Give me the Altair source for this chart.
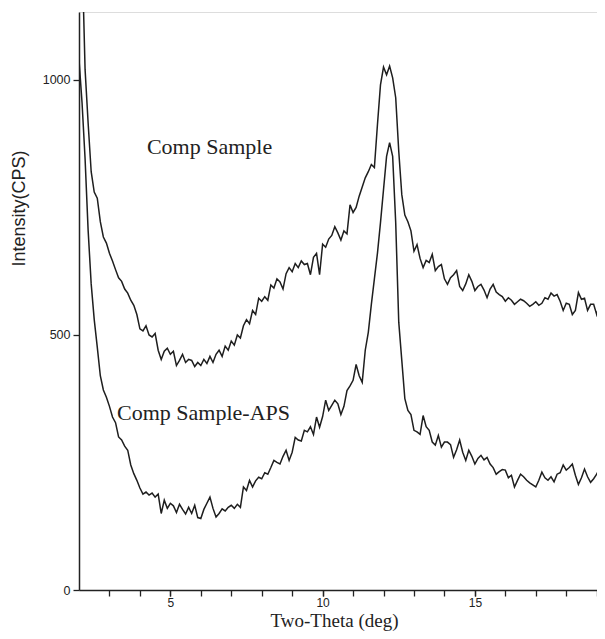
import altair as alt
import pandas as pd

# Two-theta grid: 2.0 .. 19.3 deg, step 0.1
x_start = 2.0
x_step = 0.1

comp_sample = [
    1400, 1250, 1020, 915, 820, 780, 768, 722, 692, 680,
    660, 645, 628, 612, 605, 590, 582, 568, 558, 540,
    512, 508, 518, 500, 496, 503, 470, 452, 468, 474,
    462, 468, 440, 450, 462, 446, 452, 450, 438, 446,
    440, 452, 444, 458, 446, 462, 470, 458, 478, 470,
    488, 480, 500, 494, 518, 530, 522, 548, 540, 572,
    566, 575, 568, 598, 592, 610, 604, 590, 620, 632,
    624, 640, 632, 645, 638, 640, 618, 652, 660, 618,
    678, 672, 688, 695, 712, 700, 686, 704, 698, 755,
    740, 750, 772, 790, 808, 820, 834, 828, 912, 990,
    1025, 1010, 1027, 1004, 965, 860, 775, 735, 722, 704,
    664, 677, 650, 632, 646, 642, 658, 626, 634, 638,
    610, 599, 612, 618, 626, 595, 587, 600, 618, 605,
    587, 595, 599, 588, 573, 590, 599, 584, 579, 575,
    566, 573, 568, 560, 565, 570, 567, 562, 556, 560,
    565, 558, 562, 573, 570, 582, 576, 579, 566, 548,
    562, 560, 540, 548, 583, 570, 572, 548, 560, 560,
    540, 562, 583, 570,
]

comp_sample_aps = [
    1040, 955, 845, 705, 600, 530, 476, 420, 392, 378,
    360, 339, 328, 300, 294, 282, 274, 245, 228, 215,
    200, 188, 192, 186, 190, 182, 188, 150, 176, 160,
    170, 165, 152, 168, 158, 149, 162, 150, 166, 142,
    140, 158, 170, 182, 160, 143, 150, 159, 155, 162,
    166, 160, 168, 162, 202, 195, 215, 202, 214, 221,
    218, 230, 227, 240, 254, 250, 247, 262, 274, 254,
    270, 299, 294, 292, 313, 310, 320, 305, 339, 319,
    340, 372, 352, 362, 372, 365, 344, 360, 391, 400,
    411, 442, 420, 407, 470, 505, 560, 610, 660, 720,
    785, 850, 877, 850, 720, 525, 450, 375, 352, 344,
    313, 310, 305, 342, 320, 313, 290, 284, 303, 280,
    290, 290, 285, 260, 275, 294, 270, 254, 274, 262,
    247, 258, 264, 255, 260, 247, 240, 227, 232, 236,
    235, 220, 225, 202, 215, 227, 222, 215, 210, 206,
    202, 215, 231, 220, 215, 222, 212, 227, 230, 245,
    235, 240, 247, 225, 207, 220, 237, 222, 211, 218,
    227, 240, 247, 235,
]

labels = ["Comp Sample", "Comp Sample-APS"]
label_x = [4.23, 3.25]
label_y = [855, 333]

x_major = [5, 10, 15]
x_minor = list(range(3, 20))
y_ticks = [0, 500, 1000]

rows = []
for name, vals in (("Comp Sample", comp_sample), ("Comp Sample-APS", comp_sample_aps)):
    for i, v in enumerate(vals):
        rows.append({"x": round(x_start + x_step * i, 2), "y": v, "series": name})
df = pd.DataFrame(rows)
lab = pd.DataFrame({"label": labels, "x": label_x, "y": label_y})

xscale = alt.Scale(domain=[2, 19.01], nice=False, zero=False)
yscale = alt.Scale(domain=[0, 1133], nice=False, zero=False)

INK = "#222222"

lines = alt.Chart(df).mark_line(color="#1e1e1e", strokeWidth=1.5, clip=True).encode(
    x=alt.X("x:Q", scale=xscale, axis=alt.Axis(
        values=x_major, orient="bottom",
        labelOverlap=False, labelFlush=False,
        grid=False, tickSize=6, tickWidth=1.3, tickColor=INK,
        domainColor=INK, domainWidth=1.5,
        labelFont="Liberation Sans", labelFontSize=12, labelColor=INK,
        labelPadding=1,
        title="Two-Theta (deg)", titleFont="Liberation Serif", titleFontSize=19,
        titleFontWeight="normal", titleColor=INK,
        titleX=255, titleY=36.5, titleBaseline="alphabetic", titleAnchor="middle",
    )),
    y=alt.Y("y:Q", scale=yscale, axis=alt.Axis(
        values=y_ticks, format="d", grid=False, tickSize=6, tickWidth=1.3,
        tickColor=INK, domainColor=INK, domainWidth=1.5,
        labelFont="Liberation Sans", labelFontSize=12.5, labelColor=INK,
        labelPadding=3,
        title="Intensity(CPS)", titleFont="Liberation Sans", titleFontSize=18,
        titleFontWeight="normal", titleColor=INK,
        titleX=-51, titleY=196, titleAngle=-90,
    )),
    detail="series:N",
)

texts = alt.Chart(lab).mark_text(
    align="left", baseline="alphabetic", font="Liberation Serif",
    fontSize=22, color=INK,
).encode(
    x=alt.X("x:Q", scale=xscale, axis=alt.Axis(
        values=x_minor, orient="bottom", labels=False, domain=False, grid=False,
        tickSize=6, tickWidth=1.3, tickColor=INK, title="",
    )),
    y=alt.Y("y:Q", scale=yscale),
    text="label:N",
)

chart = alt.layer(lines, texts).resolve_axis(x="independent").properties(
    width=518, height=578,
    autosize=alt.AutoSizeParams(type="none"),
    padding={"left": 71, "top": 4, "right": 0, "bottom": 41},
).configure_view(stroke=None).configure(background="white")

chart.save("out.html", embed_options={"renderer": "svg", "actions": False})
